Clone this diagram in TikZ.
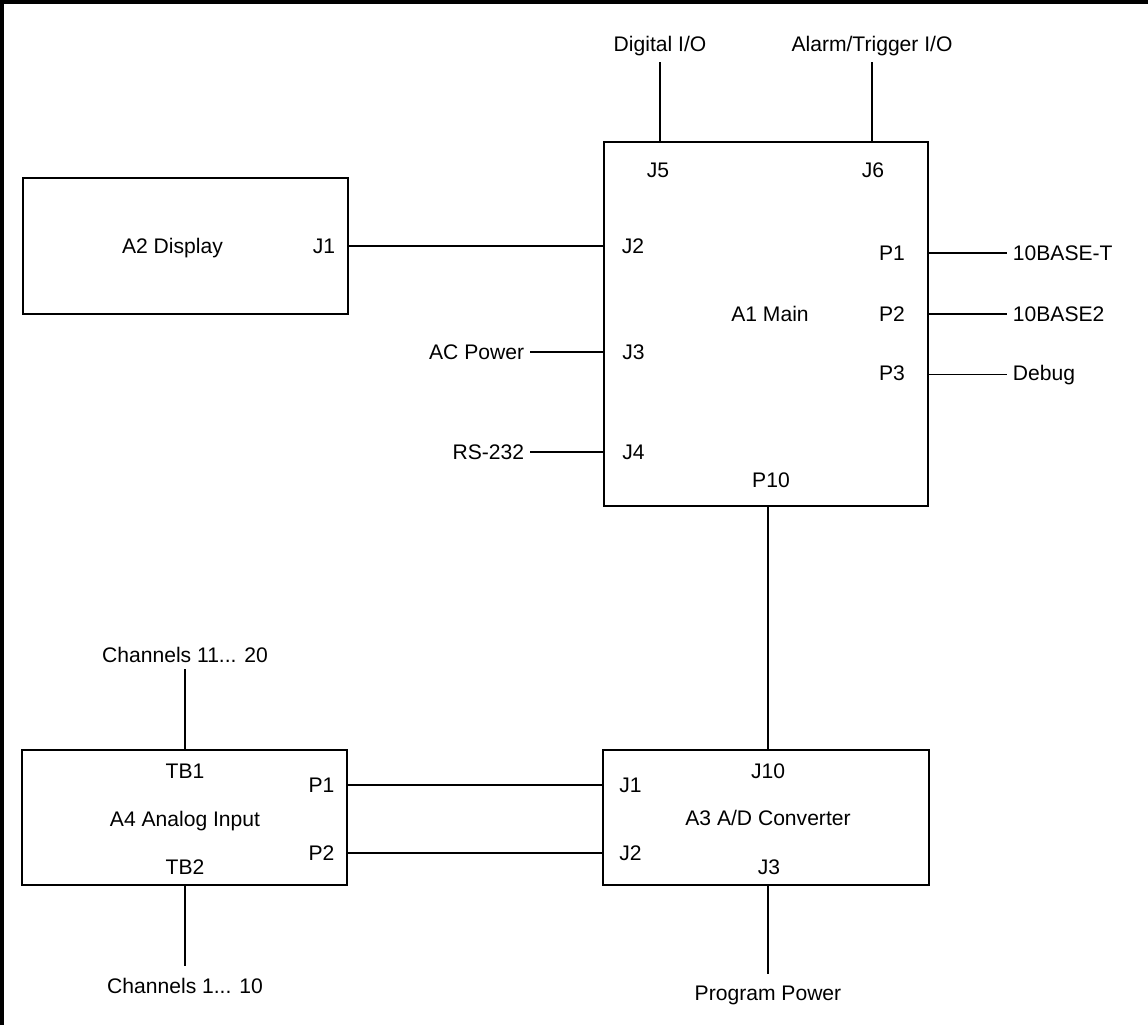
\documentclass[tikz,border=0pt]{standalone}
\usepackage{fontspec}
\setmainfont{Liberation Sans}
\usetikzlibrary{positioning}
\usetikzlibrary{calc}

\begin{document}
\begin{tikzpicture}[
			x=0.025cm, y=-0.025cm,
			font=\fontsize{15}{18}\selectfont,
			box/.style={rectangle, draw=black, line width=1.3pt, inner sep=0pt},
			port/.style={anchor=base, inner sep=0pt},
			ext/.style={inner sep=4pt},
			wire/.style={draw=black, line width=1.3pt},
			frame/.style={draw=black, line width=2.4pt},
			]
			\useasboundingbox (0,0) rectangle (1148,1025);
			\draw[frame] (2,1025) -- (2,2) -- (1148,2);
			
			% boards
			\node[box, minimum width=8.125cm, minimum height=3.4cm]   (a2) at (185.5,246)   {};
			\node[box, minimum width=8.1cm,   minimum height=9.1cm]   (a1) at (766,324)     {};
			\node[box, minimum width=8.125cm, minimum height=3.375cm] (a4) at (184.5,817.5) {};
			\node[box, minimum width=8.15cm,  minimum height=3.375cm] (a3) at (766,817.5)   {};
			
			% A2
			\node[port]       (a2_name) at (172.5,253.5) {A2 Display};
			\node[port]       (a2_j1)   at (324,253.5)   {J1};
			
			% A1
			\node[port]       (a1_name) at (770,321)     {A1 Main};
			\node[port]       (a1_j5)   at (658,177)     {J5};
			\node[port]       (a1_j6)   at (873,177)     {J6};
			\node[port]       (a1_j2)   at (633,253.5)   {J2};
			\node[port]       (a1_j3)   at (633.5,359)   {J3};
			\node[port]       (a1_j4)   at (633.5,459)   {J4};
			\node[port]       (a1_p1)   at (892,260)     {P1};
			\node[port]       (a1_p2)   at (892,321.5)   {P2};
			\node[port]       (a1_p3)   at (892,380)     {P3};
			\node[port]       (a1_p10)  at (771,487)     {P10};
			
			% A3
			\node[port]       (a3_name) at (768,825.7)   {A3 A/D Converter};
			\node[port]       (a3_j10)  at (768,778)     {J10};
			\node[port]       (a3_j1)   at (630.5,792)   {J1};
			\node[port]       (a3_j2)   at (630.5,860)   {J2};
			\node[port]       (a3_j3)   at (769,874)     {J3};
			
			% A4
			\node[port]       (a4_name) at (185,826)     {A4 Analog Input};
			\node[port]       (a4_tb1)  at (185,778)     {TB1};
			\node[port]       (a4_tb2)  at (185,874)     {TB2};
			\node[port]       (a4_p1)   at (321.5,792)   {P1};
			\node[port]       (a4_p2)   at (321.5,860)   {P2};
			
			% outside signals
			\node[ext, anchor=base]       (sig_dio)   at (660,52)      {Digital I/O};
			\node[ext, anchor=base]       (sig_alarm) at (872,52)      {Alarm/Trigger I/O};
			\node[ext, anchor=base east]  (sig_ac)    at (530,359)     {AC Power};
			\node[ext, anchor=base east]  (sig_rs)    at (530,459)     {RS-232};
			\node[ext, anchor=base west]  (sig_bt)    at (1007,260)    {10BASE-T};
			\node[ext, anchor=base west]  (sig_b2)    at (1007,321.5)  {10BASE2};
			\node[ext, anchor=base west]  (sig_dbg)   at (1007,380)    {Debug};
			\node[ext, anchor=base]       (sig_ch2)   at (185,662.7)   {Channels 11... 20};
			\node[ext, anchor=base, inner ysep=8pt] (sig_ch1)  at (185,993)  {Channels 1... 10};
			\node[ext, anchor=base, inner ysep=8pt] (sig_prog) at (768,1000) {Program Power};
			
			\draw[wire] (a2.east |- a2_j1)    -- (a1.west |- a2_j1);
			\draw[wire] (a1.north -| sig_dio)   -- (sig_dio);
			\draw[wire] (a1.north -| sig_alarm) -- (sig_alarm);
			\draw[wire] (a1.west |- sig_ac)   -- (sig_ac);
			\draw[wire] (a1.west |- sig_rs)   -- (sig_rs);
			\draw[wire] (a1.east |- sig_bt)   -- (sig_bt);
			\draw[wire] (a1.east |- sig_b2)   -- (sig_b2);
			\draw[wire] (a1.east |- sig_dbg)  -- (sig_dbg);
			\draw[wire] (a1.south -| a3_j10)  -- (a3.north -| a3_j10);
			\draw[wire] (a4.east |- a4_p1)    -- (a3.west |- a4_p1);
			\draw[wire] (a4.east |- a4_p2)    -- (a3.west |- a4_p2);
			\draw[wire] (a4.north -| sig_ch2) -- (sig_ch2);
			\draw[wire] (a4.south -| sig_ch1) -- (sig_ch1);
			\draw[wire] (a3.south -| sig_prog) -- (sig_prog);
			
\end{tikzpicture}
\end{document}
